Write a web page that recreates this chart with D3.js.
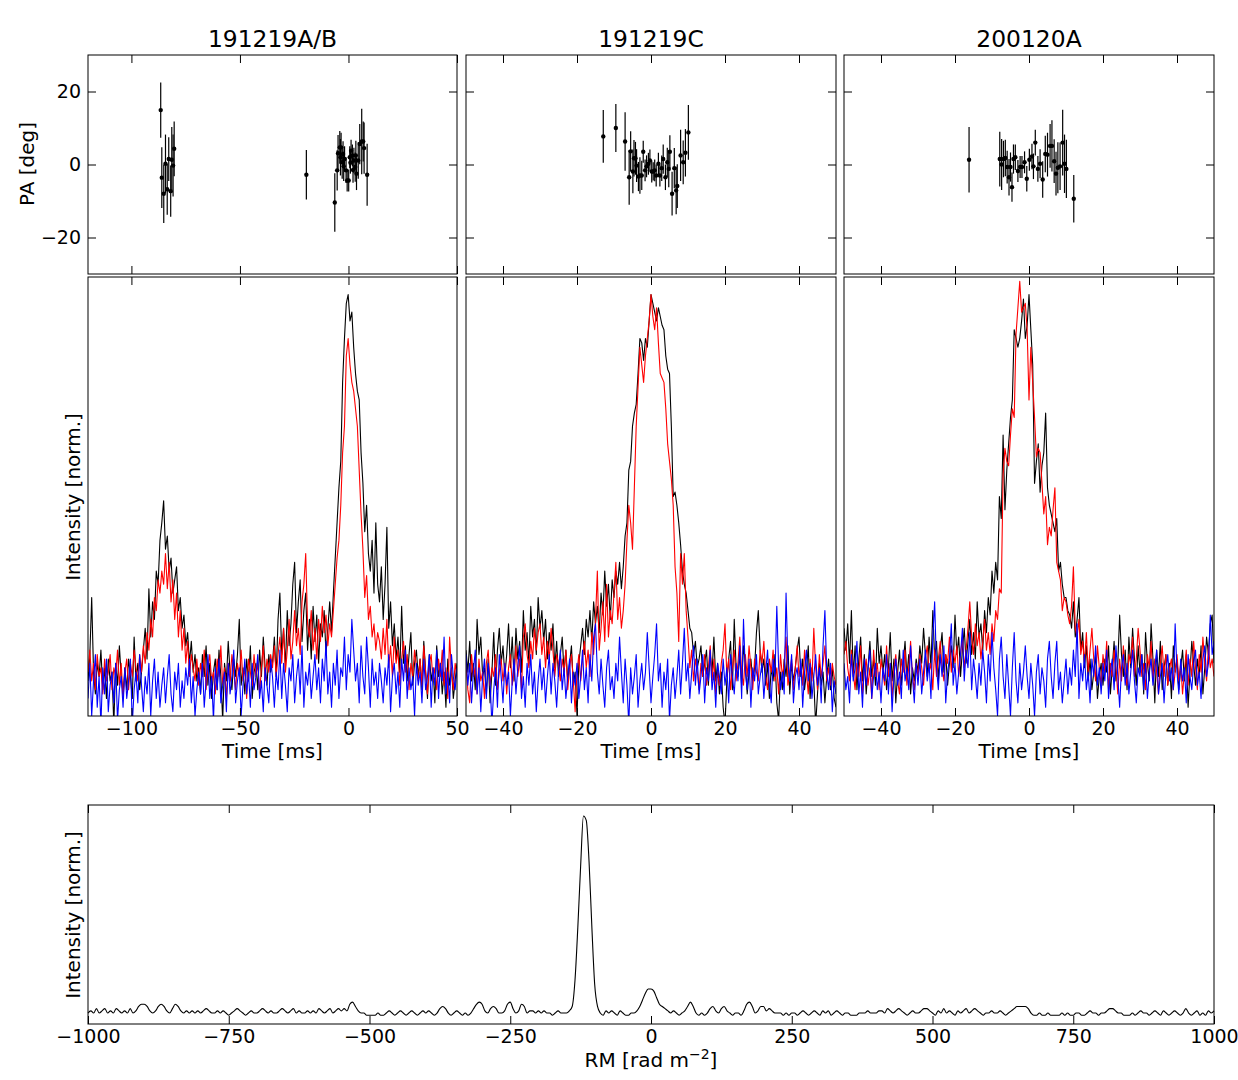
<!DOCTYPE html>
<html>
<head>
<meta charset="utf-8">
<script src="https://cdn.jsdelivr.net/npm/d3@7"></script>
<style>
body { margin: 0; background: #fff; }
svg { display: block; font-family: "DejaVu Sans", sans-serif; }
</style>
</head>
<body>
<svg id="fig" width="1238" height="1080"></svg>
<script>
// burst names and time axes
var titles = ["191219A/B", "191219C", "200120A"];
var timeDomains = [[-120, 50], [-50, 50], [-50, 50]];
var timeTicks = [[-100, -50, 0, 50], [-40, -20, 0, 20, 40], [-40, -20, 0, 20, 40]];
var timeStart = [-120, -50, -50];
var timeStep = [0.85, 0.5, 0.5];
var paTicks = [-20, 0, 20];
var rmTicks = [-1000, -750, -500, -250, 0, 250, 500, 750, 1000];
var rmStart = -1000, rmStep = 5;

// polarisation angle points: [time ms, PA deg, error deg]
var paAB = [
  [-86.5, 14.9, 7.6], [-86.0, -3.6, 8.3], [-85.1, -8.0, 8.0], [-84.3, 0.2, 8.0], [-83.5, -6.8, 7.0],
  [-82.8, 1.5, 6.0], [-81.9, -7.3, 7.0], [-81.4, 1.3, 9.0], [-80.8, -0.3, 8.5], [-80.3, 4.3, 7.5],
  [-19.4, -2.8, 6.8], [-6.3, -10.4, 8.0],
  [-5.2, -1.6, 5.5], [-4.8, 3.1, 5.0], [-4.0, 4.7, 4.5], [-3.7, 2.0, 5.0], [-3.4, 4.7, 4.0],
  [-2.9, 0.6, 4.5], [-2.5, 2.9, 3.5], [-2.2, -0.5, 4.0], [-1.8, 1.5, 3.5], [-1.1, -1.6, 3.5],
  [-0.6, -4.4, 3.0], [0.1, -4.4, 3.0], [0.6, 2.0, 3.0], [0.9, 0.5, 3.0], [1.2, 3.8, 3.0],
  [1.8, 2.5, 3.0], [2.1, -1.5, 3.5], [2.5, 1.1, 3.5], [3.1, -0.7, 4.0], [3.4, 2.5, 4.0],
  [3.7, -2.5, 4.5], [4.5, 1.1, 5.0], [5.2, 5.6, 5.5], [6.1, 6.3, 9.0], [6.8, 6.3, 5.5],
  [7.2, 4.5, 7.0], [8.6, -2.8, 8.5]
];
var paC = [
  [-12.9, 7.7, 7.2], [-9.5, 10.0, 6.6], [-7.0, 6.3, 8.0], [-5.9, -3.5, 7.5], [-5.5, 3.6, 5.5],
  [-4.9, -1.9, 6.0], [-4.6, 1.7, 5.0], [-4.2, 1.7, 4.5], [-3.9, -0.3, 4.5], [-3.4, -3.3, 4.0],
  [-3.0, -3.0, 5.0], [-2.5, -3.0, 4.0], [-2.1, 3.5, 3.0], [-1.6, -1.6, 3.0], [-1.2, -0.5, 3.0],
  [-0.7, 0.2, 3.0], [-0.3, 1.1, 3.0], [0.2, -1.9, 3.0], [0.6, -1.9, 2.5], [1.0, -1.6, 3.0],
  [1.4, -3.0, 3.0], [2.0, 0.2, 3.0], [2.4, -3.0, 3.0], [2.9, -1.0, 3.5], [3.3, 1.5, 4.0],
  [3.9, -3.5, 3.5], [4.4, 0.6, 4.0], [4.8, -1.2, 5.0], [5.1, 3.5, 4.5], [5.7, -8.0, 6.0],
  [6.3, -1.0, 5.5], [6.8, -7.1, 6.5], [7.1, -5.9, 6.0], [8.0, 2.5, 7.0], [8.7, 0.6, 6.0],
  [9.3, 3.2, 6.5], [10.1, 8.8, 7.5]
];
var pa200 = [
  [-16.2, 1.3, 9.0], [-7.9, 1.5, 7.5], [-7.4, 0.0, 7.0], [-6.9, 1.5, 5.0], [-6.4, 1.8, 5.0],
  [-5.9, -0.7, 4.5], [-5.4, -3.5, 5.0], [-5.0, -0.7, 4.0], [-4.6, -6.2, 4.0], [-4.2, 1.5, 4.0],
  [-3.7, 2.0, 3.5], [-3.0, -1.8, 3.0], [-2.4, -0.7, 3.0], [-1.9, -0.7, 3.0], [-1.2, 0.6, 3.0],
  [-0.6, -3.9, 3.5], [0.1, 1.3, 3.0], [0.8, 2.2, 3.5], [1.2, -0.5, 3.5], [1.7, 6.0, 3.5],
  [2.4, -1.2, 3.5], [3.0, 0.2, 4.0], [3.7, -4.1, 5.0], [4.4, 2.9, 5.0], [5.0, 2.7, 6.0],
  [5.7, 5.1, 6.0], [6.2, 5.1, 7.0], [6.8, 0.9, 6.0], [7.3, -2.5, 6.0], [7.8, -0.9, 7.0],
  [8.4, -0.5, 6.5], [9.1, 6.0, 9.0], [9.6, 0.2, 8.0], [10.1, -1.2, 8.0], [12.1, -9.4, 6.5]
];

// intensity profiles in % of the panel height (total = black, linear = red, circular = blue)
var totalAB = [
  8, 14, 27, 10, 5, 12, 9, 15, 6, 11, 4, 13, 8, 10, -2, 12, 7, 16, 9, 5,
  11, 6, 13, 9, 4, 18, 8, 12, 6, 10, 15, 20, 13, 29, 18, 26, 22, 33, 30, 40,
  44, 49, 38, 41, 33, 36, 28, 31, 34, 24, 27, 20, 23, 16, 19, 12, 17, 10, 14, 8,
  11, 5, 14, 9, 16, 7, 12, 4, 10, 13, 6, 15, 9, -1, 12, 8, 17, 10, 6, 13,
  9, 14, 22, 7, 11, 5, 13, 8, 16, 4, 10, 12, 6, 15, 9, 18, 11, 7, 14, 10,
  12, 18, 9, 22, 28, 14, 20, 11, 24, 16, 21, 30, 35, 19, 26, 31, 17, 24, 28, 15,
  22, 13, 25, 17, 23, 12, 21, 18, 24, 14, 20, 26, 19, 28, 36, 44, 52, 58, 76, 86,
  94, 96, 90, 92, 84, 78, 74, 72, 60, 53, 42, 48, 37, 33, 40, 28, 44, 30, 26, 34,
  22, 30, 43, 20, 26, 16, 21, 13, 18, 10, 25, 12, 16, 8, 14, 19, 7, 12, 15, 9,
  13, 6, 17, 10, 4, 14, 8, 11, 3, 16, 9, 12, 5, 10, 2, 13, 7, 11, 4, 8,
  12
];
var linearAB = [
  10, 15, 8, 12, 6, 14, 9, 11, 5, 13, 8, 10, 14, 6, 11, 9, 15, 7, 12, 4,
  10, 13, 6, 12, 9, 15, 11, 8, 14, 10, 16, 12, 19, 15, 22, 18, 27, 24, 31, 28,
  33, 30, 37, 29, 35, 26, 31, 22, 28, 18, 24, 15, 20, 12, 17, 9, 14, 11, 8, 13,
  7, 12, 9, 15, 6, 11, 14, 8, 10, 5, 13, 9, 16, 7, 11, 4, 12, 8, 14, 10,
  6, 12, 9, 15, 8, 11, 4, 13, 10, 7, 14, 9, 12, 5, 11, 16, 8, 13, 10, 14,
  11, 16, 9, 14, 18, 12, 20, 10, 15, 22, 13, 17, 24, 16, 20, 14, 26, 30, 37, 21,
  18, 24, 15, 20, 13, 22, 17, 25, 19, 23, 16, 21, 18, 24, 30, 36, 40, 48, 60, 66,
  82, 86, 80, 76, 74, 70, 66, 56, 46, 38, 27, 32, 22, 25, 18, 21, 15, 19, 17, 13,
  20, 14, 22, 11, 16, 9, 18, 12, 15, 7, 13, 17, 10, 14, 6, 12, 9, 15, 11, 8,
  13, 7, 16, 10, 5, 12, 14, 8, 11, 6, 13, 9, 15, 7, 11, 4, 18, 10, 6, 12,
  9
];
var circularAB = [
  4, 12, 0, 8, 14, 2, 9, -2, 11, 5, 13, 1, 7, 10, 3, 12, -1, 6, 9, 2,
  11, 4, 8, 13, -2, 6, 10, 3, 14, 7, 1, 9, 5, 12, 0, 8, 13, 4, 10, 2,
  7, 11, 3, 9, 14, 5, 1, 10, 6, 12, 2, 8, 4, 11, 7, 13, 3, 9, 0, 6,
  10, 5, 12, 2, 8, 14, 4, 9, -1, 11, 6, 13, 3, 7, 10, 1, 12, 5, 9, 15,
  3, 8, 11, 0, 7, 13, 5, 10, 2, 12, 6, 9, 14, 4, 8, 1, 11, 7, 3, 13,
  9, 2, 10, 6, 15, 4, 12, 7, 1, 11, 8, 14, 3, 9, 13, 5, 16, 2, 10, 7,
  12, 4, 9, 14, 6, 11, 3, 13, 8, 17, 5, 10, 2, 12, 7, 15, 4, 11, 9, 18,
  6, 14, 10, 22, 15, 8, 12, 3, 16, 9, 5, 18, 11, 2, 13, 7, 10, 4, 12, 8,
  3, 11, 7, 14, 1, 9, 12, 5, 10, 2, 13, 8, 15, 4, 11, 6, 9, 0, 12, 7,
  10, 3, 13, 6, 9, 14, 2, 11, 7, 15, 4, 12, 8, 18, 5, 10, 3, 14, 9, 6,
  11
];

var totalC = [
  15, 10, 17, 8, 12, 6, 22, 14, 18, 9, 11, 5, 13, 3, 10, 19, 7, 15, 20, 12,
  16, 9, 14, 21, 11, 18, 8, 20, 13, 17, 10, 24, 15, 19, 12, 25, 18, 22, 14, 27,
  20, 24, 17, 22, 13, 19, 15, 21, 11, 17, 9, 14, 18, 10, 15, 8, 12, 16, 7, 10,
  0, 12, 16, 20, 14, 22, 18, 24, 17, 26, 21, 25, 19, 28, 23, 33, 25, 30, 22, 31,
  27, 33, 30, 35, 29, 34, 41, 44, 56, 58, 66, 69, 71, 78, 86, 85, 81, 86, 84, 90,
  96, 94, 92, 90, 93, 91, 89, 88, 82, 79, 78, 66, 50, 51, 48, 44, 39, 33, 30, 28,
  24, 20, 19, 14, 17, 11, 13, 16, 9, 12, 15, 7, 14, 10, 18, 8, 12, 5, 10, 2,
  -2, 8, 13, 17, 6, 22, 11, 9, 14, 7, 16, 12, 5, 10, 13, 8, 11, 19, 24, 15,
  10, 13, 7, 12, 4, 11, 8, 14, 3, -1, 10, 6, 13, 9, 16, 5, 12, 8, 11, 15,
  18, 9, 13, 6, 10, 16, 4, 11, 8, -2, 5, 12, 7, 10, 3, 9, 13, 6, 11, 4,
  2
];
var linearC = [
  12, 6, 3, 14, 9, 11, 5, 13, 8, 10, 4, 12, 15, 7, 11, 9, 14, 6, 10, 13,
  8, 12, 5, 11, 14, 7, 10, 16, 9, 13, 6, 18, 21, 14, 11, 17, 13, 20, 15, 19,
  21, 14, 18, 11, 17, 13, 20, 15, 9, 14, 12, 8, 13, 10, 15, 6, 11, 14, 8, 1,
  10, 14, 8, 13, 17, 11, 15, 9, 19, 14, 22, 33, 15, 20, 26, 17, 30, 18, 24, 21,
  28, 35, 22, 27, 20, 24, 30, 40, 48, 44, 38, 52, 66, 75, 84, 80, 76, 82, 86, 90,
  96, 91, 88, 93, 85, 78, 77, 76, 70, 62, 58, 54, 48, 34, 28, 17, 37, 30, 37, 24,
  18, 11, 15, 8, 13, 10, 6, 12, 9, 14, 7, 11, 16, 8, 13, 5, 10, 7, 12, 15,
  21, 9, 13, 6, 11, 15, 8, 12, 18, 10, 7, 14, 9, 16, 11, 6, 13, 10, 8, 15,
  12, 17, 9, 6, 13, 10, 15, 8, 11, 5, 14, 9, 12, 18, 7, 10, 13, 6, 11, 16,
  9, 12, 7, 15, 10, 5, 13, 8, 20, 11, 6, 14, 9, 12, 16, 8, 11, 7, 12, 9,
  7
];
var circularC = [
  14, 7, 12, 3, 10, 15, 5, 11, 1, 9, 13, 4, 12, 8, -2, 6, 11, 2, 14, 9,
  3, 12, 7, 10, 0, 8, 13, 5, 11, 16, 4, 9, 2, 12, 7, 14, 5, 10, 1, 8,
  13, 6, 11, 3, 9, 14, 5, 12, 8, 2, 10, 15, 6, 11, 4, 9, 13, 3, 10, 7,
  12, 4, 9, 15, 6, 11, 3, 14, 8, 18, 21, 10, 5, 13, 7, 2, 11, 15, 6, 9,
  4, 12, 8, 18, 10, 3, 13, 7, -2, 11, 5, 9, 14, 2, 8, 12, 6, 10, 19, 11,
  3, 9, 14, 21, 8, 12, 2, 10, 6, 13, -1, 7, 11, 4, 9, 15, 5, 12, 20, 8,
  12, 4, 10, 16, 7, 13, 5, 9, 14, 3, 11, 8, 15, 6, 10, 2, 12, 9, 5, 13,
  7, 11, 3, 14, 9, 5, 12, 8, 16, 4, 22, 10, 6, 13, 2, 11, 8, 14, 5, 9,
  12, 4, 10, 15, 7, 3, 13, 9, 25, 11, 6, 10, 5, 28, 12, 8, 14, 3, 9, 11,
  6, 13, 2, 10, 15, 8, 12, 4, 9, 14, 7, 11, 3, 16, 24, 10, 6, 12, 1, 8,
  5
];

var total200 = [
  20, 15, 21, 12, 24, 9, 16, 6, 13, 18, 8, 14, 5, 11, 17, 9, 13, 7, 20, 12,
  16, 10, 14, 6, 11, 19, 8, 13, 3, 10, 15, 7, 12, 17, 9, 14, 5, 11, 8, 13,
  10, 16, 12, 20, 14, 9, 18, 11, 24, 13, 17, 8, 15, 19, 10, 14, 7, 12, 16, 11,
  23, 14, 18, 9, 15, 20, 12, 17, 22, 14, 19, 13, 26, 18, 21, 15, 24, 19, 27, 23,
  33, 28, 35, 31, 50, 45, 64, 47, 56, 62, 68, 72, 88, 86, 84, 86, 90, 95, 86, 89,
  96, 88, 80, 53, 58, 62, 51, 57, 60, 69, 52, 48, 46, 44, 42, 45, 33, 35, 30, 27,
  27, 24, 23, 20, 26, 18, 22, 27, 15, 19, 11, 16, 8, 13, 6, 10, 14, 4, 9, 12,
  7, 13, 10, 16, 5, 11, 17, 8, 12, 23, 14, 9, 15, 6, 18, 11, 20, 13, 7, 16,
  10, 14, 5, 19, 12, 8, 21, 13, 3, 15, 9, 17, 6, 11, 14, 7, 12, 4, 16, 10,
  13, 6, 11, 15, 8, 14, 2, 10, 17, 12, 7, 13, 9, 16, 5, 11, 18, 14, 21, 23,
  12
];
var linear200 = [
  14, 17, 11, 8, 15, 10, 6, 12, 9, 16, 5, 10, 13, 7, 11, 4, 15, 9, 12, 6,
  13, 10, 7, 16, 9, 12, 4, 11, 14, 8, 5, 13, 10, 15, 7, 11, 17, 9, 6, 12,
  9, 14, 11, 7, 13, 16, 10, 12, 6, 15, 9, 13, 17, 11, 8, 14, 12, 18, 10, 15,
  12, 16, 9, 14, 18, 11, 15, 20, 26, 18, 14, 21, 16, 19, 13, 17, 22, 15, 19, 14,
  21, 17, 24, 22, 29, 28, 55, 61, 58, 57, 64, 70, 68, 87, 93, 99, 92, 93, 94, 88,
  72, 84, 76, 68, 59, 61, 60, 53, 46, 50, 39, 43, 41, 47, 52, 35, 33, 31, 24, 27,
  26, 23, 21, 25, 34, 20, 18, 22, 14, 17, 12, 19, 10, 15, 20, 13, 8, 16, 11, 7,
  14, 10, 17, 6, 12, 9, 15, 11, 5, 13, 8, 16, 10, 7, 14, 12, 18, 9, 13, 20,
  15, 9, 12, 6, 14, 11, 17, 8, 13, 10, 5, 12, 16, 9, 14, 7, 11, 13, 6, 10,
  14, 8, 12, 5, 10, 15, 7, 13, 9, 17, 11, 6, 14, 10, 18, 12, 8, 16, 11, 13,
  9
];
var circular200 = [
  12, 6, 9, 3, 14, 8, 11, 17, 5, 10, 2, 13, 7, 11, 15, 4, 9, 12, 6, 10,
  3, 11, 8, 14, 5, 12, 1, 9, 13, 7, 10, 4, 15, 8, 11, 6, 16, 9, 3, 12,
  7, 13, 5, 10, 15, 8, 12, 4, 18, 26, 11, 6, 14, 9, 16, 3, 10, 13, 21, 7,
  12, 5, 10, 14, 20, 8, 15, 11, 19, 6, 13, 9, 4, 12, 7, 15, 10, 3, 14, 8,
  19, 11, 6, 0, 13, 18, 9, 4, 14, 7, 0, 11, 19, 8, 3, 12, 6, 10, 16, 9,
  4, 12, 7, 0, 10, 14, 5, 11, 8, 2, 13, 17, 9, 4, 12, 17, 6, 10, 3, 8,
  13, 5, 11, 7, 15, 9, 21, 4, 12, 8, 14, 6, 10, 3, 13, 9, 16, 7, 11, 5,
  12, 8, 15, 4, 10, 13, 6, 16, 9, 2, 11, 14, 7, 12, 5, 10, 15, 8, 3, 11,
  9, 14, 6, 12, 4, 10, 13, 7, 11, 15, 5, 9, 12, 3, 10, 14, 8, 11, 6, 21,
  10, 5, 13, 8, 11, 3, 14, 9, 6, 12, 15, 7, 10, 4, 13, 16, 9, 12, 23, 14,
  17
];

// Faraday spectrum, % of panel height, RM from -1000 to 1000 in steps of 5
var rmSpectrum = [
  5, 6, 5, 7, 5, 6, 7, 5, 6, 5, 7, 6, 5, 6, 5, 7, 5, 6, 8, 9,
  9, 8, 6, 5, 6, 8, 9, 8, 6, 5, 7, 9, 8, 6, 5, 6, 5, 6, 5, 6,
  5, 6, 7, 6, 5, 5, 6, 5, 6, 5, 4, 5, 6, 7, 6, 5, 4, 5, 6, 5,
  5, 6, 7, 6, 5, 6, 5, 5, 6, 7, 6, 5, 6, 7, 5, 6, 5, 5, 6, 5,
  6, 5, 7, 6, 5, 6, 7, 5, 6, 7, 6, 7, 6, 9, 10, 8, 6, 5, 5, 4,
  4, 4, 4, 5, 4, 4, 5, 6, 5, 4, 5, 6, 5, 4, 5, 6, 5, 4, 5, 6,
  5, 6, 5, 4, 5, 7, 8, 7, 5, 4, 5, 6, 5, 4, 5, 4, 5, 7, 9, 10,
  9, 6, 5, 7, 8, 7, 5, 5, 6, 9, 10, 7, 5, 6, 9, 8, 5, 6, 6, 5,
  6, 5, 6, 5, 5, 4, 5, 6, 5, 5, 5, 6, 8, 20, 44, 72, 95, 93, 74, 44,
  18, 8, 5, 4, 6, 5, 6, 5, 4, 6, 5, 4, 4, 5, 5, 6, 8, 11, 14, 16,
  16, 15, 12, 9, 8, 7, 6, 5, 6, 5, 4, 5, 6, 8, 10, 8, 5, 4, 5, 4,
  5, 7, 8, 6, 5, 7, 8, 6, 5, 4, 5, 5, 4, 6, 9, 10, 8, 5, 6, 8,
  8, 6, 7, 6, 5, 5, 5, 4, 5, 4, 5, 5, 4, 5, 6, 5, 4, 5, 6, 5,
  4, 6, 5, 6, 4, 5, 6, 5, 4, 5, 5, 4, 4, 4, 5, 5, 5, 6, 5, 5,
  5, 6, 6, 5, 7, 6, 5, 6, 7, 6, 5, 4, 5, 6, 5, 5, 6, 7, 7, 6,
  5, 4, 6, 5, 7, 5, 6, 5, 4, 6, 5, 6, 7, 5, 6, 7, 6, 5, 4, 5,
  5, 6, 5, 5, 6, 5, 4, 5, 6, 7, 8, 8, 8, 8, 7, 5, 4, 4, 5, 4,
  4, 5, 4, 4, 4, 4, 5, 4, 5, 4, 4, 5, 5, 4, 4, 5, 6, 5, 5, 4,
  5, 5, 6, 7, 7, 6, 5, 5, 4, 4, 4, 5, 4, 5, 6, 5, 5, 4, 5, 6,
  5, 4, 6, 5, 4, 5, 6, 5, 4, 5, 7, 5, 4, 5, 6, 4, 5, 4, 6, 5,
  6
];

var seriesColors = ["#000000", "#ff0000", "#0000ff"];
var font = "DejaVu Sans, sans-serif";
var tickLen = 8;
var intFormat = d3.format("d");

var svg = d3.select("#fig");

var panels = [
  { x0: 88, x1: 457, pa: paAB, series: [totalAB, linearAB, circularAB], paLabels: true },
  { x0: 466, x1: 836, pa: paC, series: [totalC, linearC, circularC], paLabels: false },
  { x0: 844, x1: 1214, pa: pa200, series: [total200, linear200, circular200], paLabels: false }
];
var paTop = 55, paBottom = 274, inTop = 277, inBottom = 716;

// adds an axis with inward ticks and no domain line
function addAxis(axis, tx, ty, showLabels) {
  var g = svg.append("g").attr("transform", "translate(" + tx + "," + ty + ")").call(axis);
  g.select(".domain").remove();
  g.attr("font-size", 19).attr("font-family", font);
  g.selectAll(".tick line").attr("stroke", "#000");
  g.selectAll(".tick text").attr("fill", "#000");
  if (!showLabels) g.selectAll(".tick text").remove();
  return g;
}

function frame(x0, x1, y0, y1) {
  svg.append("rect")
    .attr("x", x0).attr("y", y0)
    .attr("width", x1 - x0).attr("height", y1 - y0)
    .attr("fill", "none").attr("stroke", "#000").attr("stroke-width", 1);
}

panels.forEach(function (p, k) {
  var x = d3.scaleLinear().domain(timeDomains[k]).range([p.x0, p.x1]);
  var yPA = d3.scaleLinear().domain([-30, 30]).range([paBottom, paTop]);
  var yI = d3.scaleLinear().domain([0, 100]).range([inBottom, inTop]);
  var times = d3.range(p.series[0].length).map(function (i) { return timeStart[k] + timeStep[k] * i; });

  // title
  svg.append("text")
    .attr("x", (p.x0 + p.x1) / 2).attr("y", 47)
    .attr("text-anchor", "middle")
    .attr("font-size", 23.4).attr("font-family", font)
    .text(titles[k]);

  // PA error bars and points
  var pg = svg.append("g");
  pg.selectAll("line.err").data(p.pa).enter().append("line")
    .attr("class", "err")
    .attr("x1", function (d) { return x(d[0]); })
    .attr("x2", function (d) { return x(d[0]); })
    .attr("y1", function (d) { return yPA(d[1] - d[2]); })
    .attr("y2", function (d) { return yPA(d[1] + d[2]); })
    .attr("stroke", "#000").attr("stroke-width", 1.2);
  pg.selectAll("circle").data(p.pa).enter().append("circle")
    .attr("cx", function (d) { return x(d[0]); })
    .attr("cy", function (d) { return yPA(d[1]); })
    .attr("r", 2.2).attr("fill", "#000");

  // PA axes
  addAxis(d3.axisBottom(x).tickValues(timeTicks[k]).tickSize(-tickLen), 0, paBottom, false);
  addAxis(d3.axisTop(x).tickValues(timeTicks[k]).tickSize(-tickLen), 0, paTop, false);
  addAxis(d3.axisLeft(yPA).tickValues(paTicks).tickSize(-tickLen).tickPadding(7), p.x0, 0, p.paLabels);
  addAxis(d3.axisRight(yPA).tickValues(paTicks).tickSize(-tickLen), p.x1, 0, false);
  frame(p.x0, p.x1, paTop, paBottom);

  // intensity profiles
  var clipId = "clip" + k;
  svg.append("clipPath").attr("id", clipId).append("rect")
    .attr("x", p.x0).attr("y", inTop).attr("width", p.x1 - p.x0).attr("height", inBottom - inTop);
  var lg = svg.append("g").attr("clip-path", "url(#" + clipId + ")");
  var line = d3.line()
    .x(function (d, i) { return x(times[i]); })
    .y(function (d) { return yI(d); });
  p.series.forEach(function (s, j) {
    lg.append("path").datum(s)
      .attr("d", line)
      .attr("fill", "none")
      .attr("stroke", seriesColors[j])
      .attr("stroke-width", 1.1)
      .attr("stroke-linejoin", "round");
  });

  addAxis(d3.axisBottom(x).tickValues(timeTicks[k]).tickFormat(intFormat).tickSize(-tickLen).tickPadding(6), 0, inBottom, true);
  addAxis(d3.axisTop(x).tickValues(timeTicks[k]).tickSize(-tickLen), 0, inTop, false);
  frame(p.x0, p.x1, inTop, inBottom);

  svg.append("text")
    .attr("x", (p.x0 + p.x1) / 2).attr("y", 758)
    .attr("text-anchor", "middle")
    .attr("font-size", 20).attr("font-family", font)
    .text("Time [ms]");
});

// y labels of the top rows
svg.append("text")
  .attr("transform", "translate(33.5,164) rotate(-90)")
  .attr("text-anchor", "middle")
  .attr("font-size", 20).attr("font-family", font)
  .text("PA [deg]");
svg.append("text")
  .attr("transform", "translate(79.5,497) rotate(-90)")
  .attr("text-anchor", "middle")
  .attr("font-size", 20).attr("font-family", font)
  .text("Intensity [norm.]");

// Faraday spectrum panel
var rmX0 = 88, rmX1 = 1214, rmTop = 805, rmBottom = 1024;
var xRM = d3.scaleLinear().domain([-1000, 1000]).range([rmX0, rmX1]);
var yRM = d3.scaleLinear().domain([0, 100]).range([rmBottom, rmTop]);
var rmValues = d3.range(rmSpectrum.length).map(function (i) { return rmStart + rmStep * i; });

svg.append("path").datum(rmSpectrum)
  .attr("d", d3.line()
    .x(function (d, i) { return xRM(rmValues[i]); })
    .y(function (d) { return yRM(d); })
    .curve(d3.curveMonotoneX))
  .attr("fill", "none").attr("stroke", "#000").attr("stroke-width", 1.1);

addAxis(d3.axisBottom(xRM).tickValues(rmTicks).tickFormat(intFormat).tickSize(-tickLen).tickPadding(6), 0, rmBottom, true);
addAxis(d3.axisTop(xRM).tickValues(rmTicks).tickSize(-tickLen), 0, rmTop, false);
frame(rmX0, rmX1, rmTop, rmBottom);

svg.append("text")
  .attr("transform", "translate(79.5,915) rotate(-90)")
  .attr("text-anchor", "middle")
  .attr("font-size", 20).attr("font-family", font)
  .text("Intensity [norm.]");

var rmLabel = svg.append("text")
  .attr("x", 651).attr("y", 1067)
  .attr("text-anchor", "middle")
  .attr("font-size", 20).attr("font-family", font);
rmLabel.append("tspan").text("RM [rad m");
rmLabel.append("tspan").attr("font-size", 14).attr("dy", -8).text("\u22122");
rmLabel.append("tspan").attr("dy", 8).text("]");
</script>
</body>
</html>
